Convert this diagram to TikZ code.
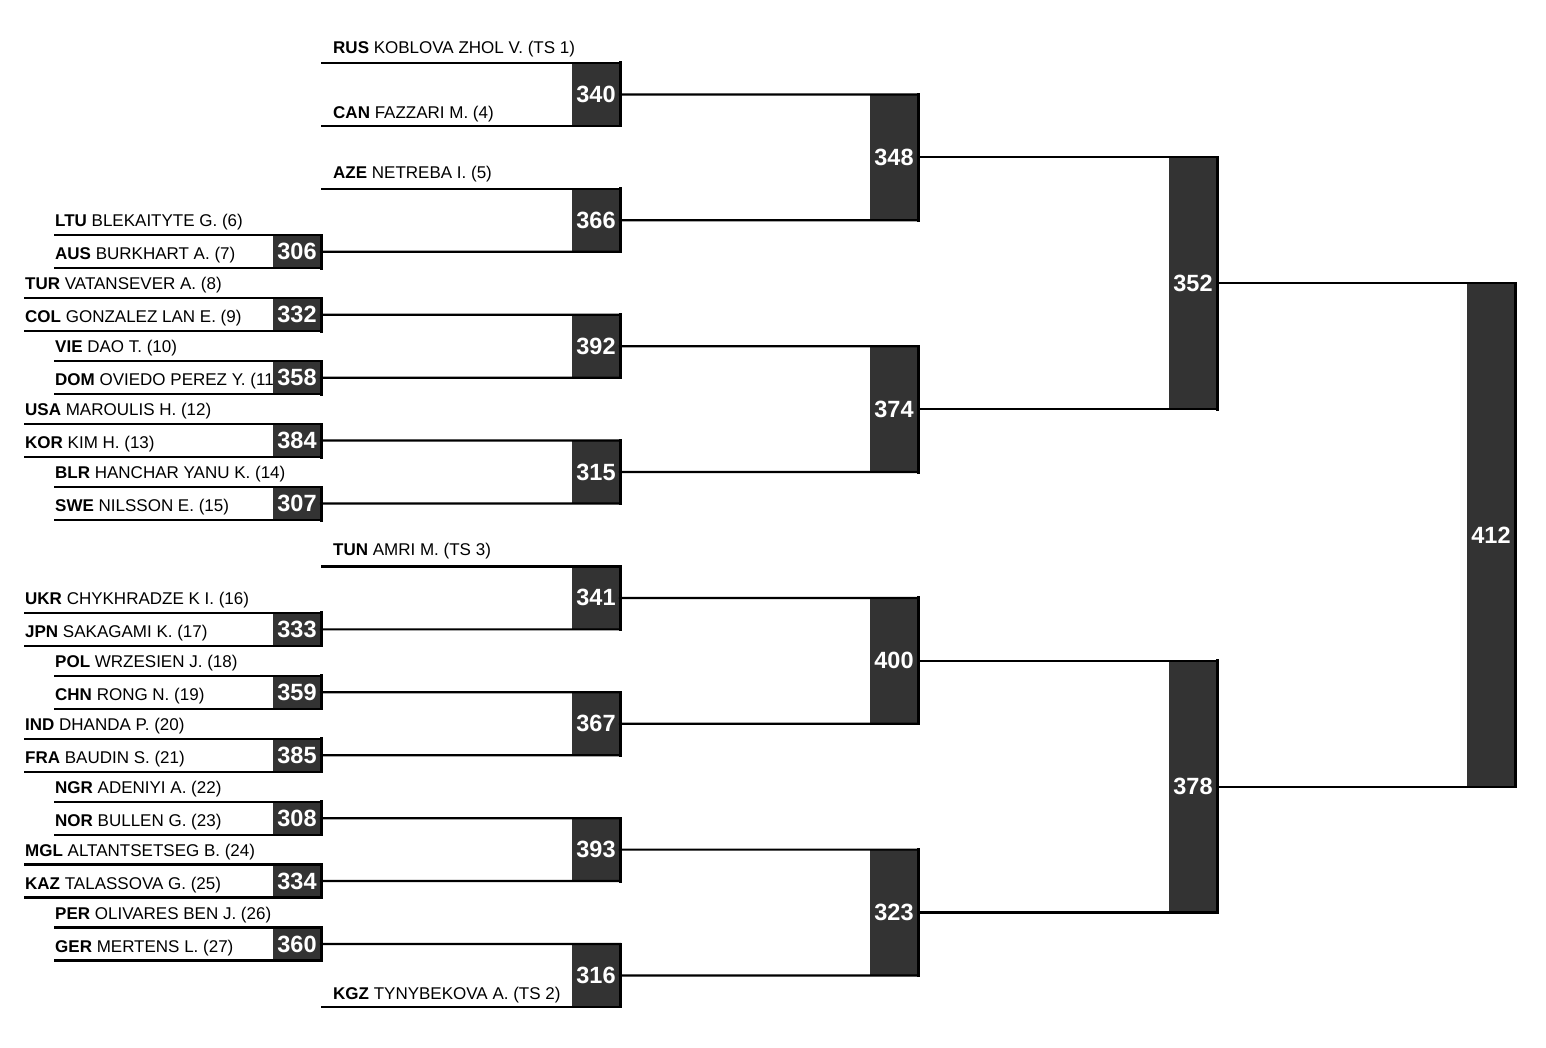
\documentclass[tikz,border=0pt]{standalone}
\usepackage{fontspec}
\setmainfont{Liberation Sans}
\definecolor{boxgray}{HTML}{333333}
\newcommand\bxnum{\fontsize{23.5}{23.5}\selectfont\bfseries}
\newcommand\bxname{\fontsize{17}{18}\selectfont}
\newcommand\cc[1]{\textbf{#1}}
\tikzset{
  nlabel/.style={anchor=base west, inner sep=0pt, font=\bxname},
  mbox/.style={fill=boxgray, minimum width=48pt, inner sep=0pt, outer sep=0pt,
               text=white, font=\bxnum, anchor=north east},
  wire/.style={line width=2.2pt, line cap=rect, draw=black},
  redge/.style={line width=3pt, line cap=rect, draw=black},
}
% round-1 match: name, slot, x start, number, upper label, lower label
\newcommand\rone[6]{%
  \pgfmathsetmacro\rc{63+62.93*#2}%
  \node[nlabel] (#1-a) at (#3,\rc-25) {#5};
  \node[nlabel] (#1-b) at (#3,\rc+8) {#6};
  \node[mbox, minimum height=33pt] (#1) at (321,\rc-16.5) {#4};
  \coordinate (#1-t) at (#3,\rc-16.5);
  \coordinate (#1-u) at (#3,\rc+16.5);
}
% later match box: name, right x, top y, height, number
\newcommand\mb[5]{%
  \node[mbox, minimum height=#4pt] (#1) at (#2,#3) {#5};
}
\begin{document}
\begin{tikzpicture}[x=1pt,y=-1pt]
\useasboundingbox (0,0) rectangle (1546,1048);

% ---- round 1
\rone{m306}{3}{55}{306}{\cc{LTU} BLEKAITYTE G. (6)}{\cc{AUS} BURKHART A. (7)}
\rone{m332}{4}{25}{332}{\cc{TUR} VATANSEVER A. (8)}{\cc{COL} GONZALEZ LAN E. (9)}
\rone{m358}{5}{55}{358}{\cc{VIE} DAO T. (10)}{\cc{DOM} OVIEDO PEREZ Y. (11)}
\rone{m384}{6}{25}{384}{\cc{USA} MAROULIS H. (12)}{\cc{KOR} KIM H. (13)}
\rone{m307}{7}{55}{307}{\cc{BLR} HANCHAR YANU K. (14)}{\cc{SWE} NILSSON E. (15)}
\rone{m333}{9}{25}{333}{\cc{UKR} CHYKHRADZE K I. (16)}{\cc{JPN} SAKAGAMI K. (17)}
\rone{m359}{10}{55}{359}{\cc{POL} WRZESIEN J. (18)}{\cc{CHN} RONG N. (19)}
\rone{m385}{11}{25}{385}{\cc{IND} DHANDA P. (20)}{\cc{FRA} BAUDIN S. (21)}
\rone{m308}{12}{55}{308}{\cc{NGR} ADENIYI A. (22)}{\cc{NOR} BULLEN G. (23)}
\rone{m334}{13}{25}{334}{\cc{MGL} ALTANTSETSEG B. (24)}{\cc{KAZ} TALASSOVA G. (25)}
\rone{m360}{14}{55}{360}{\cc{PER} OLIVARES BEN J. (26)}{\cc{GER} MERTENS L. (27)}

% ---- seeded entries of round 2
\node[nlabel] (lRUS) at (333,53.5) {\cc{RUS} KOBLOVA ZHOL V. (TS 1)};
\node[nlabel] (lCAN) at (333,118.5) {\cc{CAN} FAZZARI M. (4)};
\node[nlabel] (lAZE) at (333,178.5) {\cc{AZE} NETREBA I. (5)};
\node[nlabel] (lTUN) at (333,555.5) {\cc{TUN} AMRI M. (TS 3)};
\node[nlabel] (lKGZ) at (333,999.5) {\cc{KGZ} TYNYBEKOVA A. (TS 2)};
\coordinate (fRUS) at (322,63);
\coordinate (fCAN) at (322,125.93);
\coordinate (fAZE) at (322,188.86);
\coordinate (fTUN) at (322,566.44);
\coordinate (fKGZ) at (322,1006.95);

% ---- round 2
\mb{m340}{620}{63}{62.93}{340}
\mb{m366}{620}{188.86}{62.93}{366}
\mb{m392}{620}{314.72}{62.93}{392}
\mb{m315}{620}{440.58}{62.93}{315}
\mb{m341}{620}{566.44}{62.93}{341}
\mb{m367}{620}{692.30}{62.93}{367}
\mb{m393}{620}{818.16}{62.93}{393}
\mb{m316}{620}{944.02}{62.93}{316}
% ---- round 3
\mb{m348}{918}{94.47}{125.86}{348}
\mb{m374}{918}{346.19}{125.86}{374}
\mb{m400}{918}{597.91}{125.86}{400}
\mb{m323}{918}{849.63}{125.86}{323}
% ---- round 4
\mb{m352}{1217}{157.40}{251.72}{352}
\mb{m378}{1217}{660.84}{251.72}{378}
% ---- final
\mb{m412}{1515}{283.26}{503.44}{412}

% ---- wires
\foreach \n in {m306,m332,m358,m384,m307,m333,m359,m385,m308,m334,m360}{
  \draw[wire] (\n-t) -- (\n.north east);
  \draw[wire] (\n-u) -- (\n.south east);
}
\draw[wire] (fRUS) -- (m340.north east);
\draw[wire] (fCAN) -- (m340.south east);
\draw[wire] (fAZE) -- (m366.north east);
\draw[wire] (fTUN) -- (m341.north east);
\draw[wire] (fKGZ) -- (m316.south east);

\draw[wire] (m306.east) -- (m366.south east);
\draw[wire] (m332.east) -- (m392.north east);
\draw[wire] (m358.east) -- (m392.south east);
\draw[wire] (m384.east) -- (m315.north east);
\draw[wire] (m307.east) -- (m315.south east);
\draw[wire] (m333.east) -- (m341.south east);
\draw[wire] (m359.east) -- (m367.north east);
\draw[wire] (m385.east) -- (m367.south east);
\draw[wire] (m308.east) -- (m393.north east);
\draw[wire] (m334.east) -- (m393.south east);
\draw[wire] (m360.east) -- (m316.north east);

\draw[wire] (m340.east) -- (m348.north east);
\draw[wire] (m366.east) -- (m348.south east);
\draw[wire] (m392.east) -- (m374.north east);
\draw[wire] (m315.east) -- (m374.south east);
\draw[wire] (m341.east) -- (m400.north east);
\draw[wire] (m367.east) -- (m400.south east);
\draw[wire] (m393.east) -- (m323.north east);
\draw[wire] (m316.east) -- (m323.south east);

\draw[wire] (m348.east) -- (m352.north east);
\draw[wire] (m374.east) -- (m352.south east);
\draw[wire] (m400.east) -- (m378.north east);
\draw[wire] (m323.east) -- (m378.south east);

\draw[wire] (m352.east) -- (m412.north east);
\draw[wire] (m378.east) -- (m412.south east);

% ---- right edges of the boxes
\foreach \n in {m306,m332,m358,m384,m307,m333,m359,m385,m308,m334,m360,
                m340,m366,m392,m315,m341,m367,m393,m316,
                m348,m374,m400,m323,m352,m378,m412}{
  \draw[redge] (\n.north east) -- (\n.south east);
}
\end{tikzpicture}
\end{document}
